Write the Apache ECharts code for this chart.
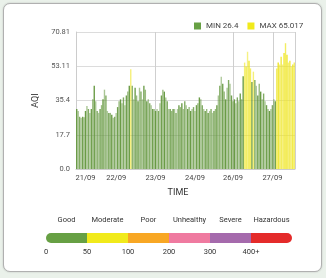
<!DOCTYPE html>
<html>
<head>
<meta charset="utf-8">
<script src="https://cdn.jsdelivr.net/npm/echarts@6/dist/echarts.min.js"></script>
<style>
  html, body { margin: 0; padding: 0; background: #eaf1ea; }
  #card {
    position: absolute; left: 3px; top: 3px; width: 317px; height: 267px;
    background: #fff; border: 1px solid #b0b0b0; border-radius: 7px;
    box-shadow: 0 0 2px rgba(0, 0, 0, 0.2);
  }
  #chart { position: absolute; left: 0; top: 0; width: 326px; height: 278px; }
</style>
</head>
<body>
<div id="card"></div>
<div id="chart"></div>
<script>
// hourly AQI readings
const aqi = [
  31, 30, 27, 26.4, 27, 26.8, 30, 32.5, 31, 29,
  31, 36, 43, 35, 30, 29, 31, 33, 36, 41,
  38, 30, 29, 29, 28, 26.5, 27, 29, 32, 35,
  36, 34, 37, 33, 38, 40, 43, 51.5, 43, 36,
  42, 38, 35, 42, 40, 36, 43, 41, 35, 36,
  34, 33, 31, 31, 30, 31, 30, 34, 38, 41,
  40, 37, 35, 31, 31, 30, 31, 31, 29, 31,
  33, 32, 34, 31, 35, 33, 31, 32, 30, 31,
  32, 30, 33, 34, 37, 36, 33, 31, 30, 31,
  29, 30, 31, 29, 30, 31, 33, 38, 43, 47.7,
  44, 40, 36, 42, 46, 44, 38, 35, 36, 34,
  37, 35, 39, 36, 48, 55, 53, 60.6, 56, 52,
  45, 50.3, 46, 43, 38, 44, 40, 36, 39, 35,
  33, 31, 30, 31, 33, 36, 35, 52, 55, 54,
  58, 54, 60, 65.017, 59, 55, 56, 53, 54, 55
];
const categories = aqi.map((v, i) => String(i));
const xTickIndex = [6, 27, 54, 81, 107, 134];
const xTickLabels = ["21/09", "22/09", "23/09", "24/09", "26/09", "27/09"];
const dayLineIndex = [54, 108, 135];
const yTickLabels = ["0.0", "17.7", "35.4", "53.11", "70.81"];
const yMax = 70.81;
const threshold = 50;

const scaleNames = ["Good", "Moderate", "Poor", "Unhealthy", "Severe", "Hazardous"];
const scaleBreaks = ["0", "50", "100", "200", "300", "400+"];
const scaleColors = ["#67a044", "#f1ea1b", "#f8a724", "#ef7aa0", "#a56aac", "#e42b2a"];

const greenShades = ["rgba(98,150,60,0.95)", "rgba(98,150,60,0.55)", "rgba(98,150,60,0.8)",
  "rgba(98,150,60,0.5)", "rgba(98,150,60,0.9)", "rgba(98,150,60,0.65)"];
const yellowShades = ["rgba(238,229,30,0.95)", "rgba(238,229,30,0.6)", "rgba(238,229,30,0.85)",
  "rgba(238,229,30,0.55)", "rgba(238,229,30,0.9)", "rgba(238,229,30,0.7)"];

const minName = "MIN " + Math.min(...aqi);
const maxName = "MAX " + Math.max(...aqi);
const low = aqi.map((v) => (v < threshold ? v : "-"));
const high = aqi.map((v) => (v >= threshold ? v : "-"));

const font = "Roboto";
const chart = echarts.init(document.getElementById("chart"));

const scaleSeries = scaleNames.map((name, i) => ({
  name: name,
  type: "bar",
  stack: "scale",
  xAxisIndex: 1,
  yAxisIndex: 1,
  barWidth: 10,
  data: [1],
  itemStyle: {
    color: scaleColors[i],
    borderRadius: i === 0 ? [5, 0, 0, 5] : i === scaleNames.length - 1 ? [0, 5, 5, 0] : 0,
  },
  label: {
    show: true,
    position: "top",
    distance: 9,
    formatter: name,
    fontFamily: font,
    fontSize: 7.5,
    color: "#333",
  },
}));

chart.setOption({
  animation: false,
  legend: {
    data: [
      { name: minName, itemStyle: { color: "#67a044" } },
      { name: maxName, itemStyle: { color: "#f1ea1b" } },
    ],
    left: 194,
    top: 22,
    padding: 0,
    icon: "rect",
    itemWidth: 7,
    itemHeight: 7,
    itemGap: 9,
    textStyle: { fontFamily: font, fontSize: 8, color: "#444" },
  },
  grid: [
    { left: 76, right: 31, top: 32, bottom: 109 },
    { left: 46, width: 246, top: 233, height: 10 },
  ],
  xAxis: [
    {
      type: "category",
      data: categories,
      name: "TIME",
      nameLocation: "middle",
      nameGap: 19,
      nameTextStyle: { fontFamily: font, fontSize: 9, color: "#333", padding: [0, 15, 0, 0] },
      axisLine: { lineStyle: { color: "#ccc" } },
      axisTick: { show: false },
      axisLabel: {
        interval: (idx) => xTickIndex.includes(idx),
        formatter: (v, idx) => xTickLabels[xTickIndex.indexOf(Number(v))] || "",
        fontFamily: font,
        fontSize: 7.5,
        color: "#444",
        margin: 5,
      },
      splitLine: {
        show: true,
        interval: (idx) => dayLineIndex.includes(idx),
        lineStyle: { color: "#cfcfcf" },
      },
    },
    {
      type: "value",
      gridIndex: 1,
      min: 0,
      max: scaleNames.length,
      interval: 1,
      axisLine: { show: false },
      axisTick: { show: false },
      splitLine: { show: false },
      axisLabel: {
        formatter: (v) => scaleBreaks[v] || "",
        fontFamily: font,
        fontSize: 7.5,
        color: "#333",
        margin: 5,
      },
    },
  ],
  yAxis: [
    {
      type: "value",
      min: 0,
      max: yMax,
      interval: yMax / 4,
      name: "AQI",
      nameLocation: "middle",
      nameGap: 26,
      nameTextStyle: { fontFamily: font, fontSize: 9, color: "#333" },
      axisLine: { show: true, lineStyle: { color: "#ccc" } },
      axisTick: { show: false },
      axisLabel: {
        formatter: (v, idx) => yTickLabels[idx],
        fontFamily: font,
        fontSize: 7.5,
        color: "#555",
        margin: 6,
      },
      splitLine: { lineStyle: { color: "#dcdcdc" } },
    },
    {
      type: "category",
      gridIndex: 1,
      data: ["scale"],
      show: false,
    },
  ],
  series: [
    {
      name: minName,
      type: "bar",
      data: low,
      barGap: "-100%",
      barCategoryGap: "5%",
      itemStyle: { color: (p) => greenShades[p.dataIndex % greenShades.length] },
    },
    {
      name: maxName,
      type: "bar",
      data: high,
      barGap: "-100%",
      barCategoryGap: "5%",
      itemStyle: { color: (p) => yellowShades[p.dataIndex % yellowShades.length] },
    },
    ...scaleSeries,
  ],
});
</script>
</body>
</html>
